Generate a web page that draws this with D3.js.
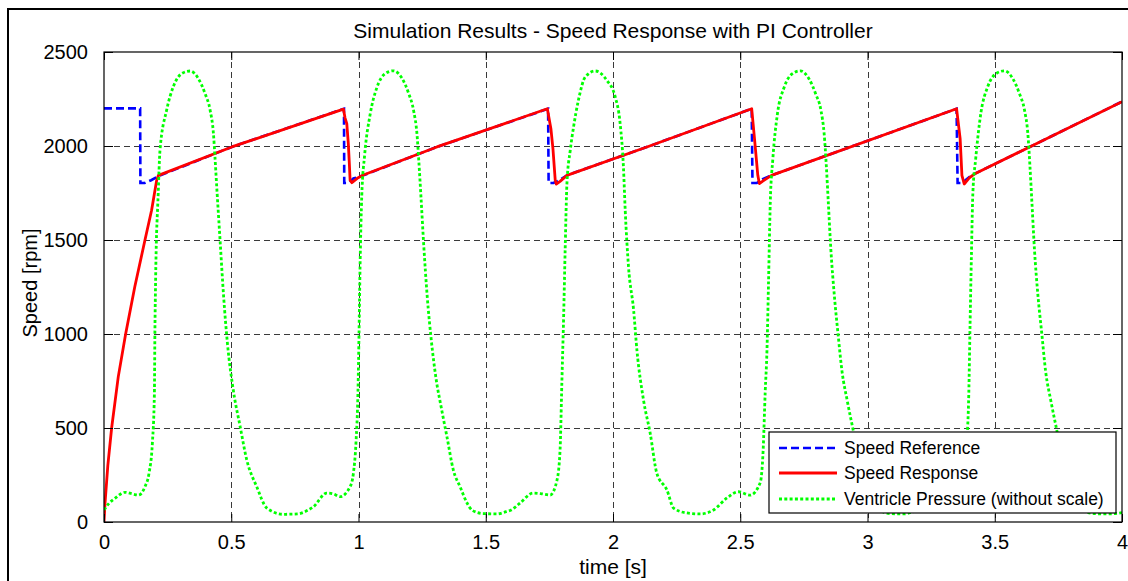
<!DOCTYPE html>
<html>
<head>
<meta charset="utf-8">
<script src="https://cdn.jsdelivr.net/npm/d3@7"></script>
<style>
  html, body { margin: 0; padding: 0; background: #fff; }
  svg { display: block; font-family: "Liberation Sans", Arial, Helvetica, sans-serif; }
</style>
</head>
<body>
<svg id="chart" width="1128" height="581"></svg>
<script>
// ---------------- data ----------------
const chartTitle = "Simulation Results - Speed Response with PI Controller";
const xLabel = "time [s]";
const yLabel = "Speed [rpm]";
const xTicks = [0, 0.5, 1, 1.5, 2, 2.5, 3, 3.5, 4];
const yTicks = [0, 500, 1000, 1500, 2000, 2500];
const seriesNames = ["Speed Reference", "Speed Response", "Ventricle Pressure (without scale)"];

// Speed reference [time s, rpm]
const speedReference = [
  [0, 2200], [0.142, 2200], [0.143, 1803], [0.16, 1803], [0.185, 1818], [0.214, 1840],
  [0.502, 1995], [0.943, 2198], [0.944, 1803], [0.96, 1803], [0.98, 1827], [1.019, 1844],
  [1.308, 1995], [1.745, 2198], [1.747, 1803], [1.766, 1803], [1.792, 1820], [1.819, 1844],
  [2.144, 2000], [2.545, 2198], [2.548, 1803], [2.565, 1803], [2.59, 1825], [2.623, 1844],
  [3.35, 2198], [3.354, 1803], [3.372, 1803], [3.40, 1835], [3.422, 1853],
  [3.645, 2000], [4.0, 2236]
];

// Speed response [time s, rpm]
const speedResponse = [
  [0, 0], [0.004, 100], [0.015, 300], [0.03, 500], [0.056, 772], [0.085, 1000],
  [0.121, 1251], [0.161, 1500], [0.187, 1658], [0.207, 1818], [0.214, 1844],
  [0.502, 1995], [0.941, 2196], [0.947, 2150], [0.954, 2119], [0.96, 2013], [0.964, 1906],
  [0.967, 1818], [0.974, 1805], [0.995, 1828], [1.019, 1846],
  [1.308, 1995], [1.742, 2198], [1.756, 2092], [1.764, 1986], [1.773, 1818], [1.777, 1797],
  [1.792, 1812], [1.819, 1844],
  [2.144, 2000], [2.545, 2198], [2.556, 2039], [2.569, 1844], [2.575, 1800], [2.59, 1815],
  [2.623, 1844],
  [3.35, 2198], [3.364, 2039], [3.371, 1844], [3.38, 1798], [3.40, 1830], [3.422, 1853],
  [3.645, 2000], [4.0, 2236]
];

// Ventricle pressure (without scale) [time s, value on rpm axis]
const ventriclePressure = [
  [0, 64], [0.02, 100], [0.043, 126], [0.083, 158], [0.11, 150], [0.135, 143], [0.161, 188],
  [0.177, 260], [0.19, 418], [0.198, 684], [0.2, 1005], [0.203, 1304], [0.213, 1747],
  [0.22, 1977], [0.246, 2190], [0.272, 2314], [0.305, 2385], [0.338, 2399], [0.371, 2358],
  [0.397, 2279], [0.417, 2190], [0.43, 2066], [0.436, 1942], [0.443, 1782], [0.456, 1500],
  [0.47, 1200], [0.485, 950], [0.508, 702], [0.535, 507], [0.561, 330], [0.6, 188],
  [0.64, 74], [0.704, 41], [0.76, 43],
  [0.8, 62], [0.823, 81], [0.875, 154], [0.9, 150], [0.928, 135], [0.967, 188], [0.98, 260],
  [0.99, 420], [0.998, 700], [1.002, 1000], [1.006, 1350], [1.013, 1740], [1.024, 1950],
  [1.046, 2170], [1.072, 2310], [1.105, 2385], [1.137, 2400], [1.171, 2360], [1.197, 2280],
  [1.217, 2185], [1.23, 2060], [1.237, 1920], [1.245, 1740], [1.256, 1480], [1.27, 1200],
  [1.285, 980], [1.305, 760], [1.325, 610], [1.348, 450], [1.372, 280], [1.4, 185],
  [1.427, 100], [1.447, 62], [1.49, 45], [1.543, 43], [1.58, 55],
  [1.6, 64], [1.635, 101], [1.686, 154], [1.72, 150], [1.753, 143], [1.78, 223], [1.792, 383],
  [1.799, 738], [1.806, 1091], [1.812, 1446], [1.819, 1801], [1.832, 1977], [1.845, 2101],
  [1.864, 2243], [1.891, 2367], [1.93, 2399], [1.976, 2349], [2.009, 2260], [2.028, 2120],
  [2.041, 1888], [2.048, 1658], [2.061, 1357], [2.081, 1127], [2.094, 914], [2.12, 648],
  [2.146, 473], [2.172, 260], [2.212, 170], [2.238, 74], [2.29, 48], [2.343, 43], [2.395, 64],
  [2.448, 128], [2.493, 161], [2.539, 143], [2.578, 207], [2.59, 383], [2.598, 690],
  [2.605, 914], [2.611, 1270], [2.618, 1700], [2.628, 1930], [2.646, 2170], [2.672, 2310],
  [2.705, 2385], [2.736, 2400], [2.771, 2355], [2.797, 2275], [2.817, 2190], [2.83, 2060],
  [2.838, 1900], [2.846, 1700], [2.856, 1450], [2.87, 1200], [2.885, 990], [2.9, 800],
  [2.92, 648], [2.946, 473], [2.972, 290], [3.0, 190], [3.025, 110], [3.045, 65], [3.09, 45],
  [3.143, 43], [3.18, 55],
  [3.2, 64], [3.22, 100], [3.243, 126], [3.283, 158], [3.31, 150], [3.335, 143], [3.361, 188],
  [3.377, 260], [3.39, 418], [3.398, 684], [3.403, 1050], [3.408, 1400], [3.414, 1750],
  [3.425, 1930], [3.446, 2180], [3.472, 2314], [3.505, 2385], [3.538, 2400], [3.571, 2358],
  [3.597, 2279], [3.617, 2190], [3.63, 2066], [3.638, 1900], [3.646, 1700], [3.656, 1450],
  [3.67, 1200], [3.685, 1000], [3.7, 800], [3.72, 648], [3.746, 473], [3.772, 290],
  [3.8, 190], [3.825, 110], [3.845, 65], [3.89, 45], [3.943, 43], [3.98, 46], [4.0, 50]
];

// ---------------- drawing ----------------
const svg = d3.select("#chart");
const W = 1128, H = 581;
const plot = { left: 104, right: 1122, top: 52, bottom: 522 };

svg.append("rect").attr("width", W).attr("height", H).attr("fill", "#fff");

// figure border (only top & left visible)
svg.append("rect")
  .attr("x", 8).attr("y", 9).attr("width", 1300).attr("height", 900)
  .attr("fill", "none").attr("stroke", "#000").attr("stroke-width", 2);

const x = d3.scaleLinear().domain([0, 4]).range([plot.left, plot.right]);
const y = d3.scaleLinear().domain([0, 2500]).range([plot.bottom, plot.top]);

svg.append("rect")
  .attr("x", plot.left).attr("y", plot.top)
  .attr("width", plot.right - plot.left).attr("height", plot.bottom - plot.top)
  .attr("fill", "#fff");

// grid
const grid = svg.append("g").attr("stroke", "#3a3a3a").attr("stroke-width", 1)
  .attr("stroke-dasharray", "6,4");
grid.selectAll("line.vx").data(xTicks.slice(1, -1)).join("line")
  .attr("x1", d => Math.round(x(d)) + 0.5).attr("x2", d => Math.round(x(d)) + 0.5)
  .attr("y1", plot.top).attr("y2", plot.bottom);
grid.selectAll("line.hy").data(yTicks.slice(1, -1)).join("line")
  .attr("y1", d => Math.round(y(d)) + 0.5).attr("y2", d => Math.round(y(d)) + 0.5)
  .attr("x1", plot.left).attr("x2", plot.right);

svg.append("clipPath").attr("id", "clip").append("rect")
  .attr("x", plot.left).attr("y", plot.top)
  .attr("width", plot.right - plot.left).attr("height", plot.bottom - plot.top);

const line = d3.line().x(d => x(d[0])).y(d => y(d[1]));
const smooth = d3.line().x(d => x(d[0])).y(d => y(d[1])).curve(d3.curveMonotoneX);

const lines = svg.append("g").attr("clip-path", "url(#clip)");
lines.append("path").datum(speedReference).attr("d", line)
  .attr("fill", "none").attr("stroke", "#0000ff").attr("stroke-width", 2.6)
  .attr("stroke-dasharray", "8,4");
lines.append("path").datum(speedResponse).attr("d", line)
  .attr("fill", "none").attr("stroke", "#ff0000").attr("stroke-width", 2.8)
  .attr("stroke-linejoin", "round");
lines.append("path").datum(ventriclePressure).attr("d", smooth)
  .attr("fill", "none").attr("stroke", "#00ff00").attr("stroke-width", 2.8)
  .attr("stroke-dasharray", "3,2.3");

// axes
const fontSize = 20;
const axB = svg.append("g").attr("transform", `translate(0,${plot.bottom})`)
  .call(d3.axisBottom(x).tickValues(xTicks).tickFormat(d3.format("~g"))
    .tickSizeInner(-8).tickSizeOuter(0).tickPadding(13));
const axT = svg.append("g").attr("transform", `translate(0,${plot.top})`)
  .call(d3.axisTop(x).tickValues(xTicks).tickFormat("").tickSizeInner(-8).tickSizeOuter(0));
const axL = svg.append("g").attr("transform", `translate(${plot.left},0)`)
  .call(d3.axisLeft(y).tickValues(yTicks).tickFormat(d3.format("d"))
    .tickSizeInner(-9).tickSizeOuter(0).tickPadding(16));
const axR = svg.append("g").attr("transform", `translate(${plot.right},0)`)
  .call(d3.axisRight(y).tickValues(yTicks).tickFormat("").tickSizeInner(-9).tickSizeOuter(0));

[axB, axT, axL, axR].forEach(a => {
  a.select(".domain").remove();
  a.selectAll("line").attr("stroke", "#000").attr("stroke-width", 1);
  a.selectAll("text").attr("fill", "#000").attr("font-size", fontSize)
    .attr("font-family", "Liberation Sans, Arial, sans-serif");
});

svg.append("rect")
  .attr("x", plot.left).attr("y", plot.top)
  .attr("width", plot.right - plot.left).attr("height", plot.bottom - plot.top)
  .attr("fill", "none").attr("stroke", "#000").attr("stroke-width", 1.2);

// title & labels
svg.append("text").attr("x", (plot.left + plot.right) / 2).attr("y", 38)
  .attr("text-anchor", "middle").attr("font-size", 21).attr("fill", "#000").text(chartTitle);
svg.append("text").attr("x", (plot.left + plot.right) / 2).attr("y", 574)
  .attr("text-anchor", "middle").attr("font-size", 21).attr("fill", "#000").text(xLabel);
svg.append("text").attr("transform", "translate(37,283) rotate(-90)")
  .attr("text-anchor", "middle").attr("font-size", 20).attr("fill", "#000").text(yLabel);

// legend
const leg = { x: 769, y: 432, w: 347, h: 81 };
const lg = svg.append("g");
lg.append("rect").attr("x", leg.x).attr("y", leg.y).attr("width", leg.w).attr("height", leg.h)
  .attr("fill", "#fff").attr("stroke", "#000").attr("stroke-width", 1.2);
const legStyles = [
  { stroke: "#0000ff", dash: "8,4", width: 2.6 },
  { stroke: "#ff0000", dash: null, width: 2.8 },
  { stroke: "#00ff00", dash: "3,2.3", width: 2.8 }
];
const rowY = [448, 473, 499];
seriesNames.forEach((name, i) => {
  lg.append("line").attr("x1", 779).attr("x2", 837).attr("y1", rowY[i]).attr("y2", rowY[i])
    .attr("stroke", legStyles[i].stroke).attr("stroke-width", legStyles[i].width)
    .attr("stroke-dasharray", legStyles[i].dash);
  lg.append("text").attr("x", 844).attr("y", rowY[i] + 6)
    .attr("font-size", 17.5).attr("fill", "#000").text(name);
});
</script>
</body>
</html>
